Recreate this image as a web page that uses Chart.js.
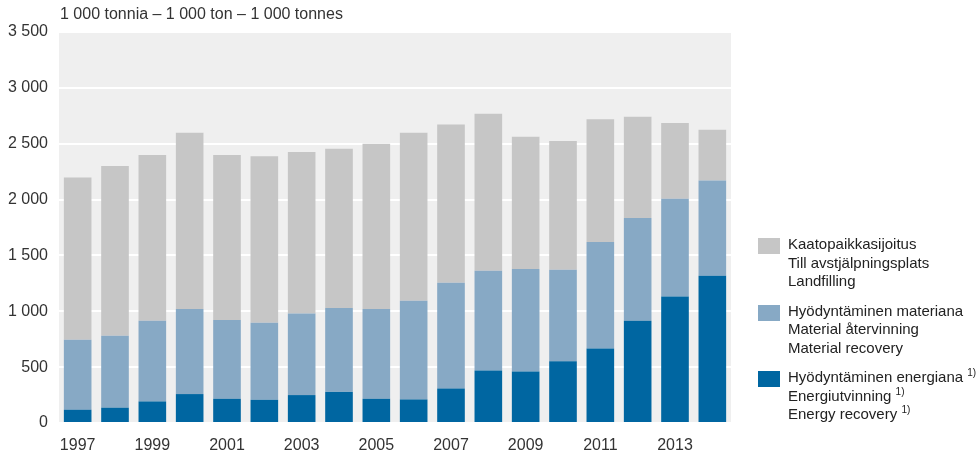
<!DOCTYPE html>
<html>
<head>
<meta charset="utf-8">
<script src="https://cdn.jsdelivr.net/npm/chart.js@4/dist/chart.umd.min.js"></script>
<style>
    html, body { margin: 0; padding: 0; background: #fff; }
    body { width: 976px; height: 453px; position: relative; overflow: hidden;
           font-family: "Liberation Sans", Arial, sans-serif; color: #333; }
    #wrap { position: absolute; left: 0; top: 0; width: 976px; height: 453px; }
    #unit { position: absolute; left: 60px; top: 5px; font-size: 16px; }
    #legend { position: absolute; left: 758px; top: 235px; font-size: 15px; line-height: 18.5px; color: #222; white-space: nowrap; }
    .item { position: relative; padding-left: 30px; margin-bottom: 11px; }
    .box { position: absolute; left: 0; top: 3px; width: 22px; height: 16px; }
    sup { font-size: 10px; line-height: 0; vertical-align: 6px; }
</style>
</head>
<body>
<div id="wrap"><canvas id="chart" width="976" height="453"></canvas></div>
<div id="unit">1 000 tonnia – 1 000 ton – 1 000 tonnes</div>
<div id="legend"></div>
<script>
// Yhdyskuntajätteet käsittelytavoittain, 1 000 t
const years = ['1997', '1998', '1999', '2000', '2001', '2002', '2003', '2004', '2005',
               '2006', '2007', '2008', '2009', '2010', '2011', '2012', '2013', '2014'];

const energyRecovery = [119, 137, 193, 259, 217, 208, 250, 279, 217, 211, 309, 470, 461, 553, 666, 916, 1133, 1317];
const materialRecovery = [627, 645, 723, 761, 705, 690, 731, 750, 803, 883, 946, 892, 918, 818, 954, 918, 874, 853];
const landfilling = [1451, 1519, 1483, 1578, 1477, 1489, 1445, 1427, 1480, 1504, 1418, 1406, 1184, 1153, 1100, 907, 678, 455];

const yTicks = [0, 500, 1000, 1500, 2000, 2500, 3000, 3500];

const seriesNames = [
    ['Kaatopaikkasijoitus', 'Till avstjälpningsplats', 'Landfilling'],
    ['Hyödyntäminen materiana', 'Material återvinning', 'Material recovery'],
    ['Hyödyntäminen energiana <sup>1)</sup>', 'Energiutvinning <sup>1)</sup>', 'Energy recovery <sup>1)</sup>']
];
const colors = ['#c6c6c6', '#87a9c5', '#0066a1'];

document.addEventListener('DOMContentLoaded', () => {
    // legend (HTML, multi-line labels)
    const legend = document.getElementById('legend');
    seriesNames.forEach((lines, i) => {
        const item = document.createElement('div');
        item.className = 'item';
        item.innerHTML = '<span class="box" style="background:' + colors[i] + '"></span>' + lines.join('<br>');
        legend.appendChild(item);
    });

    const plotBg = {
        id: 'plotBg',
        beforeDraw(chart) {
            const { ctx, chartArea: a } = chart;
            ctx.save();
            ctx.fillStyle = '#efefef';
            ctx.fillRect(a.left, a.top, a.right - a.left, a.bottom - a.top);
            ctx.restore();
        }
    };

    const fmt = v => String(v).replace(/\B(?=(\d{3})+(?!\d))/g, ' ');

    new Chart(document.getElementById('chart'), {
        type: 'bar',
        data: {
            labels: years,
            datasets: [
                { label: 'Energy recovery', data: energyRecovery, backgroundColor: colors[2] },
                { label: 'Material recovery', data: materialRecovery, backgroundColor: colors[1] },
                { label: 'Landfilling', data: landfilling, backgroundColor: colors[0] }
            ]
        },
        options: {
            responsive: false,
            animation: false,
            layout: { padding: { left: 0, right: 245, top: 32, bottom: 0 } },
            datasets: { bar: { categoryPercentage: 1, barPercentage: 0.74, borderWidth: 0 } },
            plugins: { legend: { display: false }, tooltip: { enabled: false } },
            scales: {
                x: {
                    stacked: true,
                    grid: { display: false },
                    border: { display: false },
                    afterFit: s => { s.height = 30; },
                    ticks: {
                        autoSkip: false,
                        maxRotation: 0,
                        padding: 5,
                        color: '#333',
                        font: { family: '"Liberation Sans", Arial, sans-serif', size: 16 },
                        callback: (v, i) => (i % 2 === 0 ? years[i] : '')
                    }
                },
                y: {
                    stacked: true,
                    min: 0,
                    max: 3500,
                    afterFit: s => { s.width = 59; },
                    afterBuildTicks: s => { s.ticks = yTicks.map(v => ({ value: v })); },
                    grid: { color: '#ffffff', lineWidth: 2, drawTicks: false },
                    border: { display: false },
                    ticks: {
                        padding: 11,
                        color: '#333',
                        font: { family: '"Liberation Sans", Arial, sans-serif', size: 16 },
                        callback: v => fmt(v)
                    }
                }
            }
        },
        plugins: [plotBg]
    });
});
</script>
</body>
</html>
